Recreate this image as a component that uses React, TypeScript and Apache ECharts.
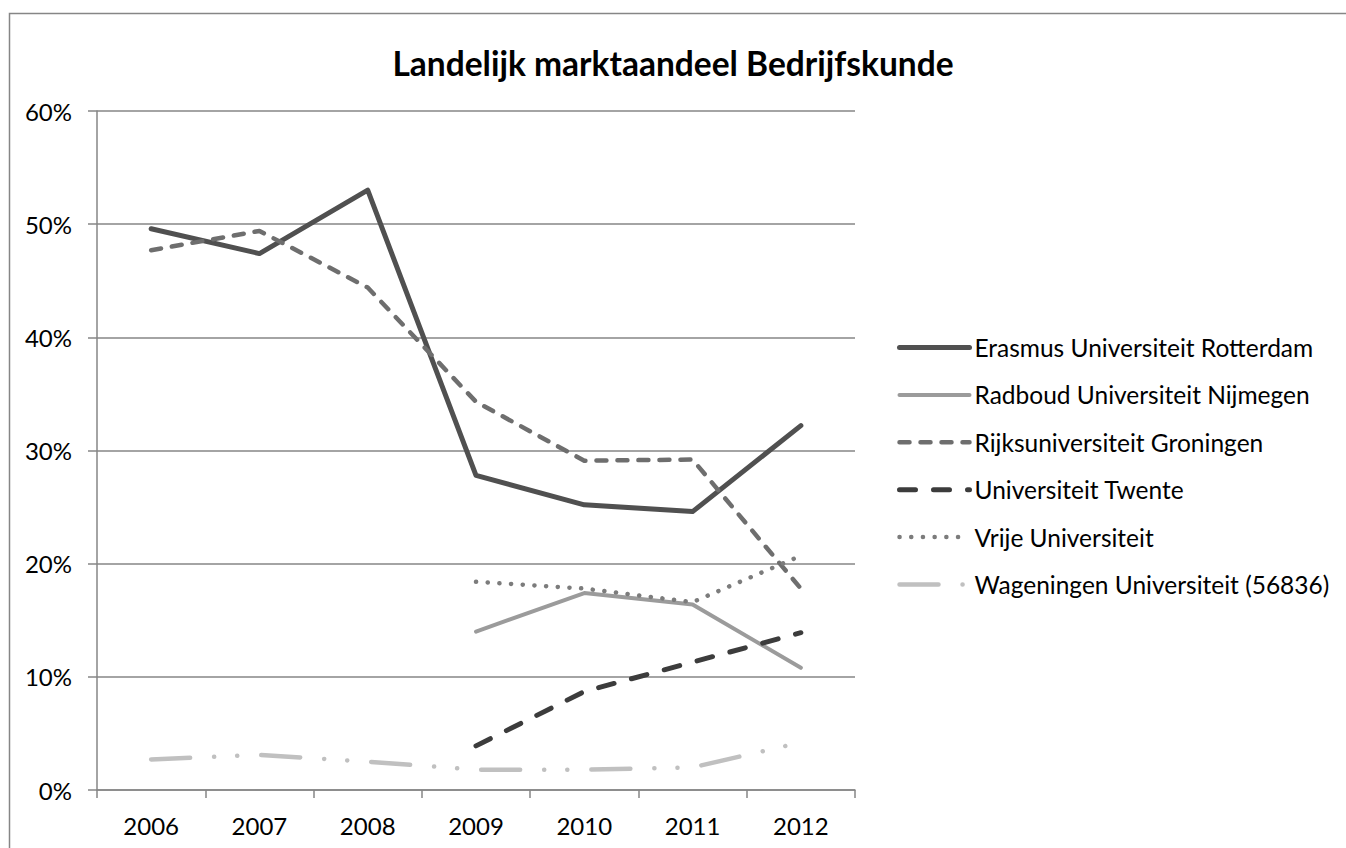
import React, { useEffect, useRef } from "react";
import * as echarts from "echarts";

const years = ["2006", "2007", "2008", "2009", "2010", "2011", "2012"];
const erasmus = [49.6, 47.4, 53.0, 27.8, 25.2, 24.6, 32.2];
const radboud = [null, null, null, 14.0, 17.4, 16.4, 10.8];
const groningen = [47.7, 49.4, 44.4, 34.3, 29.1, 29.2, 17.8];
const twente = [null, null, null, 3.9, 8.7, 11.3, 13.9];
const vrije = [null, null, null, 18.4, 17.8, 16.6, 20.7];
const wageningen = [2.7, 3.1, 2.5, 1.8, 1.8, 2.0, 4.2];
const seriesNames = [
  "Erasmus Universiteit Rotterdam",
  "Radboud Universiteit Nijmegen",
  "Rijksuniversiteit Groningen",
  "Universiteit Twente",
  "Vrije Universiteit",
  "Wageningen Universiteit (56836)",
];
const yTicks = [0, 10, 20, 30, 40, 50, 60];

const FONT = "Lato, 'Open Sans', sans-serif";

export default function App() {
  const ref = useRef<HTMLDivElement>(null);
  useEffect(() => {
    if (!ref.current) return;
    const chart = echarts.init(ref.current, undefined, { renderer: "svg" });
    const mk = (name: string, data: any[], color: string, width: number, type: any) => ({
      name,
      type: "line",
      data,
      symbol: "none",
      connectNulls: false,
      lineStyle: { color, width, type, cap: "round", join: "round" },
      itemStyle: { color },
    });
    chart.setOption({
      animation: false,
      backgroundColor: "#ffffff",
      textStyle: { fontFamily: FONT },
      title: {
        text: "Landelijk marktaandeel Bedrijfskunde",
        left: "center",
        top: 41,
        textStyle: { fontFamily: FONT, fontSize: 33.5, fontWeight: "bold", color: "#000" },
      },
      graphic: [
        {
          type: "rect",
          shape: { x: 9.5, y: 13.5, width: 1400, height: 900 },
          style: { fill: "none", stroke: "#868686", lineWidth: 1.5 },
          silent: true,
        },
      ],
      legend: {
        orient: "vertical",
        left: 892,
        top: 330,
        itemWidth: 70,
        itemHeight: 18,
        itemGap: 22.4,
        itemStyle: { opacity: 0 },
        lineStyle: { width: "inherit", type: "inherit", cap: "round" },
        textStyle: { fontFamily: FONT, fontSize: 24.5, color: "#000" },
        data: seriesNames,
      },
      grid: { left: 97, top: 111, width: 758, height: 679, containLabel: false },
      xAxis: {
        type: "category",
        data: years,
        boundaryGap: true,
        axisLine: { lineStyle: { color: "#868686", width: 1.5 } },
        axisTick: { show: true, length: 8, lineStyle: { color: "#868686", width: 1.5 } },
        axisLabel: { margin: 23, fontSize: 24, color: "#000", fontFamily: FONT },
        splitLine: { show: false },
      },
      yAxis: {
        type: "value",
        min: yTicks[0],
        max: yTicks[yTicks.length - 1],
        interval: 10,
        axisLine: { show: true, lineStyle: { color: "#868686", width: 1.5 } },
        axisTick: { show: true, length: 9, lineStyle: { color: "#868686", width: 1.5 } },
        axisLabel: { margin: 25, fontSize: 24, color: "#000", fontFamily: FONT, formatter: (v: number) => `${v}%` },
        splitLine: { show: true, lineStyle: { color: "#868686", width: 1.5 } },
      },
      series: [
        mk(seriesNames[0], erasmus, "#505050", 5, "solid"),
        mk(seriesNames[1], radboud, "#9b9b9b", 4, "solid"),
        mk(seriesNames[2], groningen, "#6e6e6e", 4.5, [10, 11]),
        mk(seriesNames[3], twente, "#3c3c3c", 5, [16, 18]),
        mk(seriesNames[4], vrije, "#7c7c7c", 4.5, [0.1, 11.6]),
        mk(seriesNames[5], wageningen, "#c0c0c0", 4.5, [39, 24, 0.1, 23, 0.1, 24]),
      ],
    });
    return () => chart.dispose();
  }, []);
  return (
    <div
      ref={ref}
      style={{ position: "absolute", left: 0, top: 0, width: 1346, height: 848 }}
    />
  );
}
